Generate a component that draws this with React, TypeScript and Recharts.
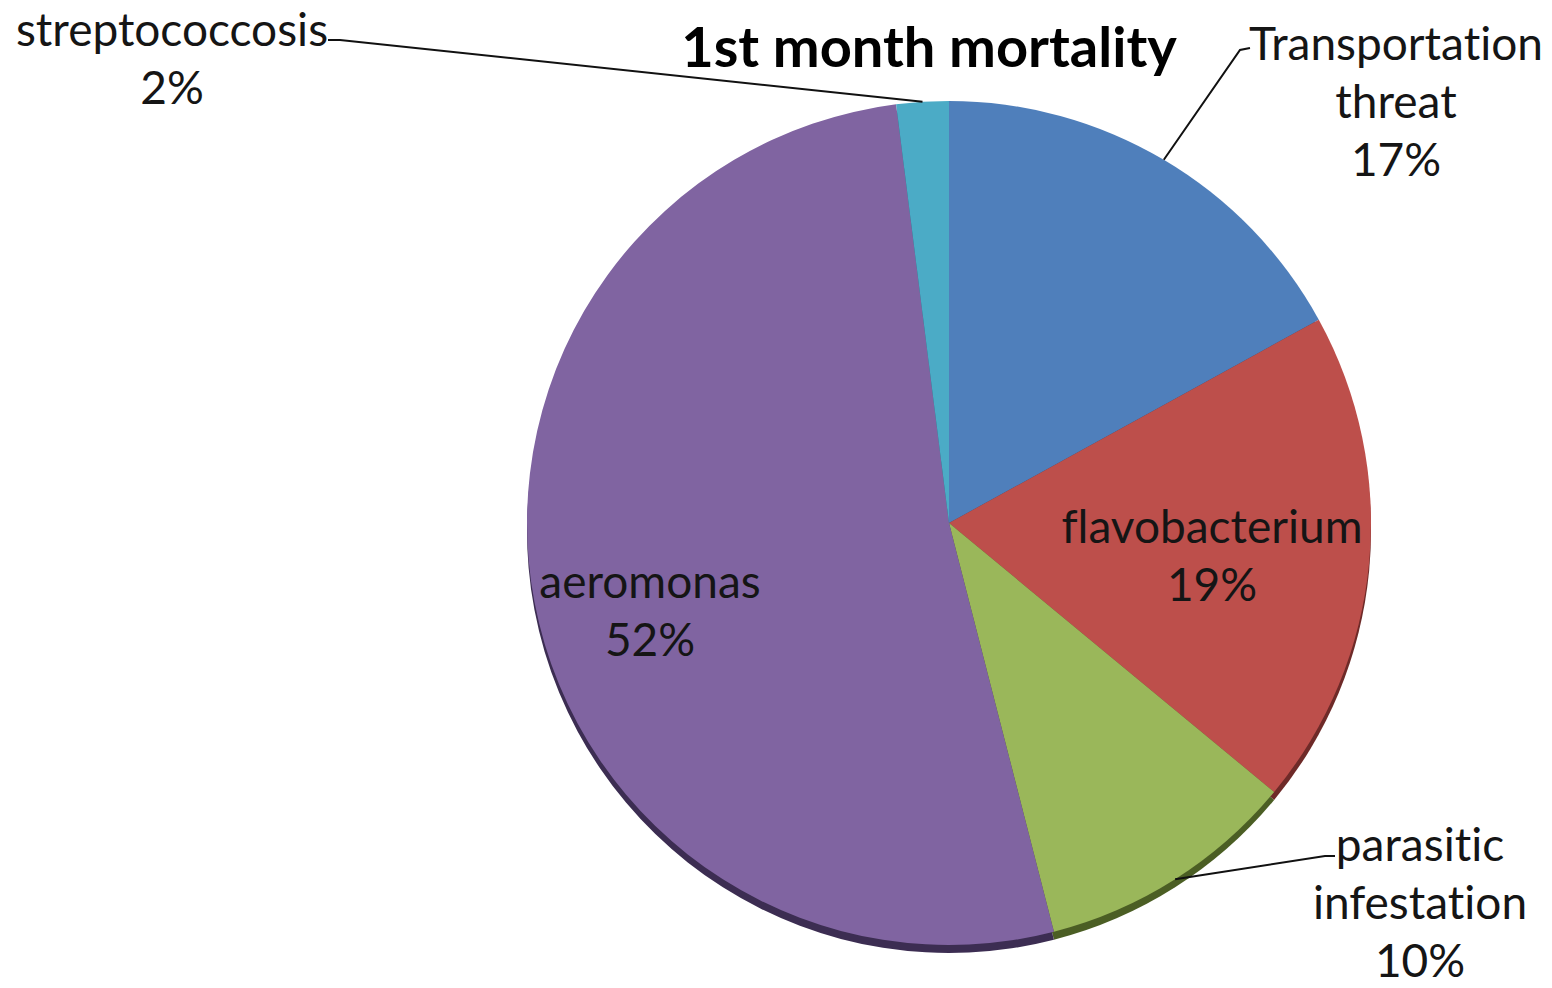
import React from 'react';
import { PieChart, Pie, Cell } from 'recharts';

// causes of death in the first month, share of total (%)
const causes = ['Transportation threat', 'flavobacterium', 'parasitic infestation', 'aeromonas', 'streptococcosis'];
const shares = [17, 19, 10, 52, 2];
const labelLines = [['Transportation', 'threat'], ['flavobacterium'], ['parasitic', 'infestation'], ['aeromonas'], ['streptococcosis']];

const sliceColors = ['#4f7fbb', '#bd4f4b', '#9ab75a', '#8064a1', '#4babc6'];
const rimColors = ['#2e4a70', '#6e2a28', '#4b5e24', '#3c2d52', '#2a6275'];

const pieData = causes.map((name, i) => ({ name, value: shares[i], lines: labelLines[i] }));

const FONT = 'Lato, "Open Sans", sans-serif';
const LINE_H = 58;

// where each label block sits and where its leader line bends (layout only)
const labelLayout: Record<string, { x: number; y: number; elbow?: [number, number]; tip?: [number, number] }> = {
  'Transportation threat': { x: 1396, y: 42, elbow: [1240, 50], tip: [1250, 48] },
  flavobacterium: { x: 1212, y: 525 },
  'parasitic infestation': { x: 1420, y: 843, elbow: [1325, 856], tip: [1335, 856] },
  aeromonas: { x: 650, y: 580 },
  streptococcosis: { x: 172, y: 28, elbow: [340, 40], tip: [328, 40] },
};

const RADIAN = Math.PI / 180;

const renderLabel = (props: any) => {
  const { cx, cy, midAngle, outerRadius, payload, value } = props;
  const layout = labelLayout[payload.name];
  if (!layout) return null;
  const lines = [...payload.lines, `${value}%`];
  const ex = cx + outerRadius * Math.cos(-midAngle * RADIAN);
  const ey = cy + outerRadius * Math.sin(-midAngle * RADIAN);
  return (
    <g>
      {layout.elbow && layout.tip && (
        <polyline
          points={`${ex},${ey} ${layout.elbow[0]},${layout.elbow[1]} ${layout.tip[0]},${layout.tip[1]}`}
          fill="none"
          stroke="#111"
          strokeWidth={2}
        />
      )}
      {lines.map((t: string, i: number) => (
        <text
          key={i}
          x={layout.x}
          y={layout.y + i * LINE_H}
          textAnchor="middle"
          dominantBaseline="central"
          fontFamily={FONT}
          fontSize={46}
          fill="#151515"
          style={{ fontVariantLigatures: 'none' }}
        >
          {t}
        </text>
      ))}
    </g>
  );
};

export default function App() {
  return (
    <div style={{ position: 'absolute', left: 0, top: 0, width: 1552, height: 988, background: '#fff' }}>
      <PieChart width={1552} height={988} margin={{ top: 0, right: 0, bottom: 0, left: 0 }}>
        <text x={929} y={45} textAnchor="middle" dominantBaseline="central" fontFamily={FONT} fontWeight="bold" fontSize={56} fill="#000">
          1st month mortality
        </text>
        {/* dark rim under the pie for the tilted look */}
        <Pie
          data={pieData}
          dataKey="value"
          cx={949}
          cy={531}
          outerRadius={422}
          startAngle={90}
          endAngle={-270}
          stroke="none"
          isAnimationActive={false}
          label={false}
          labelLine={false}
        >
          {pieData.map((d, i) => (
            <Cell key={`rim-${i}`} fill={rimColors[i]} />
          ))}
        </Pie>
        <Pie
          data={pieData}
          dataKey="value"
          cx={949}
          cy={523}
          outerRadius={422}
          startAngle={90}
          endAngle={-270}
          stroke="none"
          isAnimationActive={false}
          label={renderLabel}
          labelLine={false}
        >
          {pieData.map((d, i) => (
            <Cell key={`cell-${i}`} fill={sliceColors[i]} />
          ))}
        </Pie>
      </PieChart>
    </div>
  );
}
